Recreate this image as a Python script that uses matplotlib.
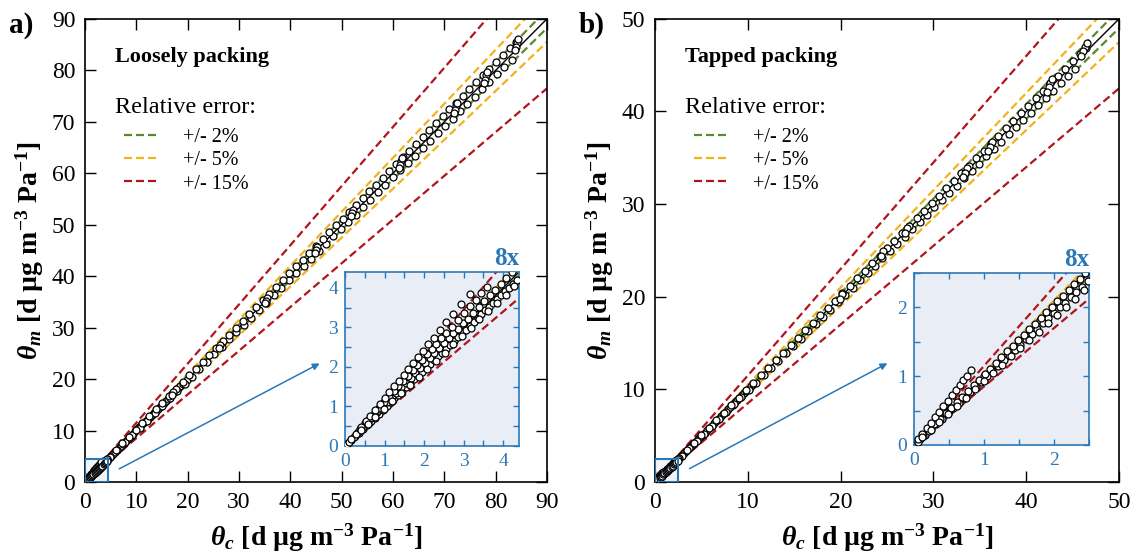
import matplotlib
matplotlib.use('Agg')
import matplotlib.pyplot as plt
from matplotlib.patches import Rectangle, FancyArrowPatch
from matplotlib.ticker import MultipleLocator
import numpy as np

plt.rcParams['font.family'] = ['Liberation Serif', 'DejaVu Serif']
plt.rcParams['mathtext.fontset'] = 'custom'
plt.rcParams['mathtext.rm'] = 'Liberation Serif'
plt.rcParams['mathtext.it'] = 'Liberation Serif:italic'
plt.rcParams['mathtext.bf'] = 'Liberation Serif:bold'
plt.rcParams['mathtext.bfit'] = 'Liberation Serif:italic:bold'

GREEN = '#5b8a2b'
YELLOW = '#f2b21a'
RED = '#b2141c'
BLUE = '#2a78b8'
INSET_BG = '#e9eef6'

err_levels = [0.02, 0.05, 0.15]
err_colors = [GREEN, YELLOW, RED]
err_labels = ['+/- 2%', '+/- 5%', '+/- 15%']

# ---------------- loosely packing (a) ----------------
loose_x1 = [1.0, 2.2, 3.5, 4.8, 6.0, 7.3, 8.6, 9.9, 11.2, 12.5,
            13.8, 15.1, 16.4, 17.7, 19.0, 20.3, 21.6, 22.9, 24.2, 25.5,
            26.8, 28.1, 29.4, 30.7, 32.0, 33.3, 34.6, 35.9, 37.2, 38.5,
            39.8, 41.1, 42.4, 43.7, 45.0, 46.3, 47.6, 48.9, 50.2, 51.5,
            52.8, 54.1, 55.4, 56.7, 58.0, 59.3, 60.6, 61.9, 63.2, 64.5,
            65.8, 67.1, 68.4, 69.7, 71.0, 72.3, 73.6, 74.9, 76.2, 77.5,
            78.8, 80.1, 81.4, 82.7, 84.0]
loose_y1 = [1.03, 2.26, 3.6, 4.93, 6.15, 7.5, 8.8, 10.1, 11.4, 12.75,
            14.1, 15.4, 16.75, 18.05, 19.4, 20.7, 22.05, 23.35, 24.7, 26.0,
            27.35, 28.65, 30.0, 31.3, 32.6, 33.95, 35.3, 36.6, 37.9, 39.25,
            40.6, 41.9, 43.2, 44.55, 45.9, 47.2, 48.5, 49.85, 51.2, 52.5,
            53.8, 55.15, 56.5, 57.8, 59.1, 60.45, 61.8, 63.1, 64.4, 65.75,
            67.1, 68.4, 69.7, 71.05, 72.4, 73.7, 75.0, 76.35, 77.7, 79.0,
            80.3, 81.6, 82.9, 84.3, 85.6]
loose_x2 = [0.6, 2.0, 3.4, 4.9, 6.3, 7.8, 9.2, 10.7, 12.1, 13.6,
            15.0, 16.5, 17.9, 19.4, 20.8, 22.3, 23.7, 25.2, 26.6, 28.1,
            29.5, 31.0, 32.4, 33.9, 35.3, 36.8, 38.2, 39.7, 41.1, 42.6,
            44.0, 45.5, 46.9, 48.4, 49.8, 51.3, 52.7, 54.2, 55.6, 57.1,
            58.5, 60.0, 61.4, 62.9, 64.3, 65.8, 67.2, 68.7, 70.1, 71.6,
            73.0, 74.5, 75.9, 77.4, 78.8, 80.3, 81.7, 83.2]
loose_y2 = [0.58, 1.96, 3.34, 4.82, 6.2, 7.68, 9.06, 10.55, 11.93, 13.4,
            14.8, 16.27, 17.65, 19.13, 20.5, 22.0, 23.38, 24.86, 26.24, 27.72,
            29.1, 30.58, 31.96, 33.44, 34.82, 36.3, 37.68, 39.16, 40.54, 42.02,
            43.4, 44.88, 46.27, 47.75, 49.13, 50.6, 51.98, 53.46, 54.85, 56.33,
            57.7, 59.19, 60.57, 62.05, 63.43, 64.91, 66.29, 67.77, 69.15, 70.63,
            72.0, 73.49, 74.87, 76.36, 77.73, 79.22, 80.6, 82.08]
loose_dense_x = [4.6, 5.0, 5.4, 5.8, 6.2, 6.6, 7.0, 7.4, 7.8, 8.2,
                 8.6, 9.0, 9.4, 9.8, 10.2, 10.6, 11.0, 11.4, 11.8, 12.2,
                 12.6, 13.0, 13.4, 13.8, 14.2, 14.6, 15.0, 15.4, 15.8, 16.2,
                 16.6, 17.0, 17.4, 17.8, 18.2, 18.6, 19.0, 19.4, 19.8]
loose_dense_y = [4.62, 5.03, 5.42, 5.83, 6.22, 6.63, 7.03, 7.42, 7.83, 8.22,
                 8.63, 9.03, 9.42, 9.83, 10.22, 10.63, 11.03, 11.42, 11.83, 12.22,
                 12.63, 13.03, 13.42, 13.83, 14.22, 14.63, 15.03, 15.42, 15.83, 16.22,
                 16.63, 17.03, 17.42, 17.83, 18.22, 18.63, 19.03, 19.42, 19.83]
loose_clu_x = [84.2, 84.0, 83.8, 84.4, 78.1, 77.9, 78.3, 77.7, 72.2, 72.0,
               71.8, 72.4, 61.6, 61.4, 61.8, 61.2, 52.3, 52.1, 51.9, 45.2,
               45.0, 44.8, 35.4, 35.2, 35.0, 26.3, 26.1, 17.2, 17.0]
loose_clu_y = [85.3, 84.6, 83.9, 86.0, 79.0, 78.2, 79.6, 77.6, 73.0, 72.3,
               71.7, 73.6, 62.3, 61.6, 62.9, 61.0, 52.9, 52.2, 51.6, 45.7,
               45.1, 44.5, 35.8, 35.2, 34.7, 26.6, 26.0, 17.4, 16.9]
# low-range runs (visible in the 8x inset)
loose_steep_x = [0.40, 0.52, 0.64, 0.76, 0.88, 1.00, 1.12, 1.24, 1.36, 1.48,
                 1.60, 1.72, 1.84, 1.96, 2.10, 2.24, 2.40, 2.56, 2.74, 2.94, 3.16]
loose_steep_y = [0.47, 0.62, 0.77, 0.91, 1.06, 1.21, 1.36, 1.51, 1.65, 1.80,
                 1.95, 2.10, 2.24, 2.39, 2.57, 2.73, 2.93, 3.13, 3.35, 3.59, 3.85]
loose_s112_x = [0.15, 0.27, 0.39, 0.51, 0.63, 0.75, 0.87, 0.99, 1.11, 1.23,
                1.35, 1.47, 1.59, 1.71, 1.83, 1.95, 2.07, 2.19, 2.31, 2.43,
                2.55, 2.70, 2.85, 3.00, 3.15, 3.30, 3.45, 3.60]
loose_s112_y = [0.17, 0.30, 0.44, 0.57, 0.71, 0.84, 0.97, 1.11, 1.24, 1.38,
                1.51, 1.65, 1.78, 1.92, 2.05, 2.18, 2.32, 2.45, 2.59, 2.72,
                2.86, 3.02, 3.19, 3.36, 3.53, 3.70, 3.86, 4.03]
loose_mid_x = [0.10, 0.22, 0.34, 0.46, 0.58, 0.70, 0.82, 0.94, 1.06, 1.18,
               1.30, 1.42, 1.54, 1.66, 1.78, 1.90, 2.02, 2.14, 2.26, 2.38,
               2.50, 2.62, 2.74, 2.86, 2.98, 3.10, 3.24, 3.38, 3.52, 3.66,
               3.80, 3.94, 4.08, 4.22, 4.36]
loose_mid_y = [0.10, 0.23, 0.35, 0.48, 0.60, 0.73, 0.85, 0.98, 1.10, 1.23,
               1.35, 1.48, 1.60, 1.73, 1.85, 1.98, 2.10, 2.23, 2.35, 2.48,
               2.60, 2.72, 2.85, 2.97, 3.10, 3.22, 3.37, 3.52, 3.66, 3.81,
               3.95, 4.10, 4.24, 4.39, 4.53]
loose_low_x = [0.05, 0.15, 0.25, 0.35, 0.45, 0.55, 0.65, 0.75, 0.85, 0.95,
               1.05, 1.15, 1.25, 1.35, 1.45, 1.55, 1.65, 1.75, 1.85, 1.95,
               2.05, 2.15, 2.25, 2.35, 2.45, 2.55, 2.65, 2.75, 2.85, 2.95,
               3.05, 3.15, 3.25, 3.35, 3.45, 3.55, 3.65, 3.75, 3.85, 3.95,
               4.05, 4.15, 4.25, 4.35]
loose_low_y = [0.05, 0.14, 0.24, 0.34, 0.43, 0.53, 0.63, 0.72, 0.82, 0.92,
               1.01, 1.11, 1.21, 1.30, 1.40, 1.50, 1.59, 1.69, 1.79, 1.88,
               1.98, 2.07, 2.17, 2.27, 2.36, 2.46, 2.56, 2.65, 2.75, 2.85,
               2.94, 3.04, 3.14, 3.23, 3.33, 3.43, 3.52, 3.62, 3.72, 3.81,
               3.91, 4.00, 4.10, 4.20]
loose_dot_x = [0.40, 0.57, 0.77, 0.99, 1.20, 1.41, 1.64, 1.86, 2.08, 2.30,
               2.52, 2.74, 2.96, 3.18, 3.40, 3.62, 3.84, 4.06, 4.28]
loose_dot_y = [0.40, 0.56, 0.74, 0.94, 1.13, 1.33, 1.54, 1.74, 1.95, 2.15,
               2.36, 2.57, 2.78, 2.99, 3.20, 3.41, 3.62, 3.83, 4.04]

# ---------------- tapped packing (b) ----------------
tap_x1 = [1.0, 1.8, 2.6, 3.4, 4.2, 5.0, 5.8, 6.6, 7.4, 8.2,
          9.0, 9.8, 10.6, 11.4, 12.2, 13.0, 13.8, 14.6, 15.4, 16.2,
          17.0, 17.8, 18.6, 19.4, 20.2, 21.0, 21.8, 22.6, 23.4, 24.2,
          25.0, 25.8, 26.6, 27.4, 28.2, 29.0, 29.8, 30.6, 31.4, 32.2,
          33.0, 33.8, 34.6, 35.4, 36.2, 37.0, 37.8, 38.6, 39.4, 40.2,
          41.0, 41.8, 42.6, 43.4, 44.2, 45.0, 45.8, 46.4]
tap_y1 = [1.01, 1.82, 2.63, 3.43, 4.24, 5.05, 5.86, 6.67, 7.47, 8.28,
          9.09, 9.90, 10.71, 11.51, 12.32, 13.13, 13.94, 14.75, 15.55, 16.36,
          17.17, 17.98, 18.79, 19.59, 20.40, 21.21, 22.02, 22.83, 23.63, 24.44,
          25.25, 26.06, 26.87, 27.67, 28.48, 29.29, 30.10, 30.91, 31.71, 32.52,
          33.33, 34.14, 34.95, 35.75, 36.56, 37.37, 38.18, 38.99, 39.79, 40.60,
          41.41, 42.22, 43.03, 43.83, 44.64, 45.45, 46.26, 46.86]
tap_x2 = [0.5, 1.3, 2.1, 2.9, 3.7, 4.5, 5.3, 6.1, 6.9, 7.7,
          8.5, 9.3, 10.1, 10.9, 11.7, 12.5, 13.3, 14.1, 14.9, 15.7,
          16.5, 17.3, 18.1, 18.9, 19.7, 20.5, 21.3, 22.1, 22.9, 23.7,
          24.5, 25.3, 26.1, 26.9, 27.7, 28.5, 29.3, 30.1, 30.9, 31.7,
          32.5, 33.3, 34.1, 34.9, 35.7, 36.5, 37.3, 38.1, 38.9, 39.7,
          40.5, 41.3, 42.1, 42.9, 43.7, 44.5, 45.3]
tap_y2 = [0.49, 1.28, 2.07, 2.86, 3.64, 4.43, 5.22, 6.01, 6.80, 7.58,
          8.37, 9.16, 9.95, 10.74, 11.52, 12.31, 13.10, 13.89, 14.68, 15.46,
          16.25, 17.04, 17.83, 18.62, 19.40, 20.19, 20.98, 21.77, 22.56, 23.34,
          24.13, 24.92, 25.71, 26.50, 27.28, 28.07, 28.86, 29.65, 30.44, 31.22,
          32.01, 32.80, 33.59, 34.38, 35.16, 35.95, 36.74, 37.53, 38.32, 39.10,
          39.89, 40.68, 41.47, 42.26, 43.04, 43.83, 44.62]
tap_dense_x = [2.6, 2.85, 3.1, 3.35, 3.6, 3.85, 4.1, 4.35, 4.6, 4.85,
               5.1, 5.35, 5.6, 5.85, 6.1, 6.35, 6.6, 6.85, 7.1, 7.35,
               7.6, 7.85, 8.1, 8.35, 8.6, 8.85, 9.1, 9.35, 9.6, 9.85,
               10.1, 10.35, 10.6]
tap_dense_y = [2.60, 2.84, 3.09, 3.34, 3.59, 3.84, 4.09, 4.34, 4.59, 4.84,
               5.09, 5.34, 5.59, 5.84, 6.09, 6.34, 6.59, 6.84, 7.09, 7.34,
               7.59, 7.84, 8.09, 8.34, 8.59, 8.84, 9.09, 9.34, 9.59, 9.84,
               10.09, 10.34, 10.59]
tap_clu_x = [46.3, 46.1, 45.9, 46.5, 42.6, 42.4, 42.2, 42.8, 36.3, 36.1,
             35.9, 33.6, 33.4, 33.2, 27.1, 26.9, 24.6, 24.4, 20.1, 19.9]
tap_clu_y = [47.0, 46.5, 46.0, 47.4, 43.1, 42.6, 42.1, 43.5, 36.7, 36.2,
             35.7, 33.9, 33.4, 32.9, 27.4, 26.9, 24.9, 24.4, 20.3, 19.8]
tap_steep_x = [0.06, 0.12, 0.18, 0.24, 0.30, 0.36, 0.42, 0.48, 0.54, 0.60,
               0.65, 0.70, 0.75, 0.81]
tap_steep_y = [0.08, 0.16, 0.24, 0.32, 0.40, 0.48, 0.56, 0.64, 0.72, 0.80,
               0.87, 0.94, 1.01, 1.09]
tap_mid_x = [0.05, 0.13, 0.21, 0.29, 0.37, 0.45, 0.53, 0.61, 0.69, 0.77,
             0.85, 0.93, 1.01, 1.09, 1.17, 1.25, 1.33, 1.41, 1.49, 1.57,
             1.65, 1.73, 1.81, 1.89, 1.97, 2.05, 2.13, 2.21, 2.29, 2.37, 2.45]
tap_mid_y = [0.05, 0.13, 0.21, 0.30, 0.38, 0.46, 0.54, 0.62, 0.70, 0.79,
             0.87, 0.95, 1.03, 1.11, 1.19, 1.28, 1.36, 1.44, 1.52, 1.60,
             1.68, 1.76, 1.85, 1.93, 2.01, 2.09, 2.17, 2.25, 2.34, 2.42, 2.50]
tap_low_x = [0.08, 0.16, 0.24, 0.32, 0.40, 0.48, 0.56, 0.64, 0.72, 0.80,
             0.88, 0.96, 1.04, 1.12, 1.20, 1.28, 1.36, 1.44, 1.52, 1.60,
             1.68, 1.76, 1.84, 1.92, 2.00, 2.08, 2.16, 2.24, 2.32, 2.40, 2.48]
tap_low_y = [0.08, 0.15, 0.23, 0.31, 0.38, 0.46, 0.54, 0.61, 0.69, 0.77,
             0.84, 0.92, 1.00, 1.08, 1.15, 1.23, 1.31, 1.38, 1.46, 1.54,
             1.61, 1.69, 1.77, 1.84, 1.92, 2.00, 2.07, 2.15, 2.23, 2.30, 2.38]
tap_dot_x = [0.11, 0.24, 0.36, 0.49, 0.62, 0.74, 0.87, 1.00, 1.13, 1.26,
             1.39, 1.52, 1.65, 1.78, 1.91, 2.04, 2.17, 2.30, 2.43]
tap_dot_y = [0.12, 0.22, 0.33, 0.45, 0.57, 0.69, 0.81, 0.93, 1.05, 1.17,
             1.29, 1.41, 1.53, 1.65, 1.77, 1.89, 2.01, 2.13, 2.25]

loose_series = [(loose_dense_x, loose_dense_y), (loose_x2, loose_y2),
                (loose_x1, loose_y1), (loose_clu_x, loose_clu_y),
                (loose_low_x, loose_low_y), (loose_mid_x, loose_mid_y),
                (loose_s112_x, loose_s112_y), (loose_steep_x, loose_steep_y),
                (loose_dot_x, loose_dot_y)]
tap_series = [(tap_dense_x, tap_dense_y), (tap_x2, tap_y2), (tap_x1, tap_y1),
              (tap_clu_x, tap_clu_y), (tap_low_x, tap_low_y),
              (tap_mid_x, tap_mid_y), (tap_steep_x, tap_steep_y),
              (tap_dot_x, tap_dot_y)]


def draw_lines(ax, lim, lw=1.6, dash=(3.6, 1.8), label=True):
    xx = np.array([0, lim])
    ax.plot(xx, xx, color='black', lw=1.0, zorder=2)
    for e, c, lab in zip(err_levels, err_colors, err_labels):
        ax.plot(xx, xx * (1 + e), color=c, lw=lw, dashes=dash, zorder=2,
                label=lab if label else None)
        ax.plot(xx, xx * (1 - e), color=c, lw=lw, dashes=dash, zorder=2)


def draw_points(ax, series, ms=5.0):
    for sx, sy in series:
        ax.plot(sx, sy, ls='none', marker='o', ms=ms, mfc='white',
                mec='black', mew=0.9, zorder=3)


def style_main(ax, lim, step):
    ax.set_xlim(0, lim)
    ax.set_ylim(0, lim)
    ax.xaxis.set_major_locator(MultipleLocator(step))
    ax.yaxis.set_major_locator(MultipleLocator(step))
    ax.tick_params(which='both', direction='in', top=True, right=True,
                   length=8, width=1.0, labelsize=17, pad=7)
    for s in ax.spines.values():
        s.set_linewidth(1.2)
    ax.set_xlabel(r'$\mathbfit{\theta_c}$ [d µg m$^{\mathbf{-3}}$ Pa$^{\mathbf{-1}}$]',
                  fontsize=20, fontweight='bold', labelpad=6)
    ax.set_ylabel(r'$\mathbfit{\theta_m}$ [d µg m$^{\mathbf{-3}}$ Pa$^{\mathbf{-1}}$]',
                  fontsize=20, fontweight='bold', labelpad=4)


def style_inset(ax, lim):
    ax.set_xlim(0, lim)
    ax.set_ylim(0, lim)
    ax.set_facecolor(INSET_BG)
    ax.xaxis.set_major_locator(MultipleLocator(1))
    ax.yaxis.set_major_locator(MultipleLocator(1))
    ax.xaxis.set_minor_locator(MultipleLocator(0.5))
    ax.yaxis.set_minor_locator(MultipleLocator(0.5))
    ax.tick_params(which='both', direction='in', top=True, right=True,
                   length=4, width=1.0, color=BLUE, labelcolor=BLUE,
                   labelsize=14, pad=5)
    for s in ax.spines.values():
        s.set_color(BLUE)
        s.set_linewidth(1.2)
    ax.text(1.0, 1.01, '8x', transform=ax.transAxes, ha='right', va='bottom',
            color=BLUE, fontsize=18, fontweight='bold')


fig = plt.figure(figsize=(11.36, 5.6), dpi=100)

panels = [
    dict(rect=[0.0748, 0.1393, 0.4067, 0.827], inset=[0.3037, 0.2036, 0.1532, 0.3107],
         lim=90, ilim=4.4, series=loose_series, title='Loosely packing', tag='a)',
         arrow=((6.2, 2.3), (46.2, 23.3))),
    dict(rect=[0.5766, 0.1393, 0.4085, 0.827], inset=[0.8046, 0.2054, 0.1540, 0.307],
         lim=50, ilim=2.5, series=tap_series, title='Tapped packing', tag='b)',
         arrow=((3.45, 1.3), (25.3, 12.96))),
]

for p in panels:
    ax = fig.add_axes(p['rect'])
    draw_lines(ax, p['lim'])
    draw_points(ax, p['series'])
    style_main(ax, p['lim'], 10)

    ilim = p['ilim']
    ax.add_patch(Rectangle((0, 0), ilim, ilim, facecolor=INSET_BG, alpha=0.6,
                           edgecolor='none', zorder=1))
    ax.add_patch(Rectangle((0, 0), ilim, ilim, facecolor='none',
                           edgecolor=BLUE, lw=1.5, zorder=4))
    ax.add_patch(FancyArrowPatch(p['arrow'][0], p['arrow'][1], arrowstyle='-|>',
                                 mutation_scale=10, color=BLUE, lw=1.1, zorder=4))

    ax.text(0.065, 0.918, p['title'], transform=ax.transAxes, fontsize=16,
            fontweight='bold', va='center', ha='left')
    ax.text(0.065, 0.808, 'Relative error:', transform=ax.transAxes,
            fontsize=17.5, va='center', ha='left')
    ax.legend(loc='upper left', bbox_to_anchor=(0.084, 0.764), frameon=False,
              fontsize=14.5, handlelength=1.7, handletextpad=1.25, labelspacing=0.2,
              borderpad=0, borderaxespad=0)

    fig.text(p['rect'][0] - 0.067, 0.955, p['tag'], fontsize=21,
             fontweight='bold', ha='left', va='center')

    axi = fig.add_axes(p['inset'])
    draw_lines(axi, ilim, label=False)
    draw_points(axi, p['series'])
    style_inset(axi, ilim)

fig.savefig('out.png', dpi=100)
